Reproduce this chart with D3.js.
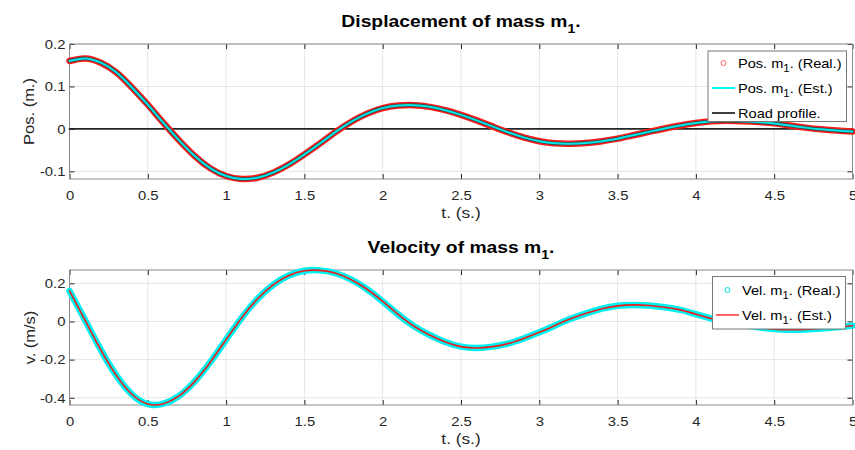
<!DOCTYPE html>
<html><head><meta charset="utf-8">
<script src="https://cdn.jsdelivr.net/npm/d3@7"></script>
<style>body{margin:0;background:#fff}svg{display:block;font-family:"Liberation Sans",Arial,sans-serif}</style>
</head><body><svg id="c" width="855" height="450"></svg>
<script>
// time samples (s)
const time = d3.range(0, 51).map(i => +(i * 0.1).toFixed(1));
// displacement of mass m1 (m)
const posReal = [0.160,0.166,0.156,0.133,0.097,0.057,0.014,-0.027,-0.064,-0.093,
 -0.111,-0.118,-0.115,-0.103,-0.084,-0.060,-0.034,-0.007,0.017,0.036,
 0.049,0.055,0.056,0.052,0.044,0.033,0.020,0.006,-0.008,-0.020,
 -0.029,-0.034,-0.035,-0.033,-0.029,-0.023,-0.015,-0.007,0.001,0.008,
 0.014,0.018,0.019,0.018,0.016,0.013,0.008,0.003,-0.001,-0.004,-0.006];
const posEst = posReal.slice();
const road = time.map(() => 0);
// velocity of mass m1 (m/s)
const velReal = [0.160,0.006,-0.149,-0.284,-0.383,-0.433,-0.431,-0.390,-0.314,-0.212,
 -0.095,0.020,0.118,0.192,0.241,0.266,0.268,0.253,0.219,0.169,
 0.105,0.036,-0.025,-0.071,-0.108,-0.132,-0.139,-0.132,-0.116,-0.089,
 -0.057,-0.021,0.014,0.043,0.067,0.082,0.087,0.084,0.075,0.061,
 0.038,0.015,-0.005,-0.019,-0.031,-0.040,-0.043,-0.042,-0.037,-0.030,-0.022];
const velEst = velReal.slice();
const xTicks = [0,0.5,1,1.5,2,2.5,3,3.5,4,4.5,5];
const yTicksPos = [-0.1,0,0.1,0.2];
const yTicksVel = [-0.4,-0.2,0,0.2];

const svg = d3.select("#c");
const L = 69.5, R = 852.5;
const fmt = d => String(d); // plain hyphen minus, like MATLAB

function stretchedText(parent, x, y, sx, rot){
  const tr = `translate(${x},${y})` + (rot ? ` rotate(${rot})` : "") + ` scale(${sx},1)`;
  return parent.append("text").attr("transform", tr);
}

function panel(cfg){
  const g = svg.append("g");
  const x = d3.scaleLinear().domain([0,5]).range([L,R]);
  const y = d3.scaleLinear().domain(cfg.ydom).range([cfg.bottom,cfg.top]);
  // grid
  g.append("g").selectAll("line.v").data(xTicks).join("line")
    .attr("x1",d=>x(d)).attr("x2",d=>x(d)).attr("y1",cfg.top).attr("y2",cfg.bottom)
    .attr("stroke","#e6e6e6").attr("stroke-width",1);
  g.append("g").selectAll("line.h").data(cfg.yticks).join("line")
    .attr("x1",L).attr("x2",R).attr("y1",d=>y(d)).attr("y2",d=>y(d))
    .attr("stroke","#e6e6e6").attr("stroke-width",1);
  // axes with inward ticks
  const ax = (gen, tr) => g.append("g").attr("transform",tr).call(gen)
      .call(s=>s.select(".domain").remove())
      .call(s=>s.selectAll(".tick line").attr("stroke","#262626"))
      .call(s=>s.selectAll("text").attr("fill","#262626").attr("font-size",13.5)
          .attr("font-family","Liberation Sans, Arial")
          .attr("transform", function(){ const xx = +d3.select(this).attr("x")||0; return `translate(${xx*(1-1.1)},0) scale(1.1,1)`; }));
  ax(d3.axisBottom(x).tickValues(xTicks).tickSize(-5).tickPadding(11).tickFormat(fmt), `translate(0,${cfg.bottom})`);
  ax(d3.axisTop(x).tickValues(xTicks).tickSize(-5).tickFormat(""), `translate(0,${cfg.top})`);
  ax(d3.axisLeft(y).tickValues(cfg.yticks).tickSize(-5).tickPadding(4).tickFormat(fmt), `translate(${L},0)`);
  ax(d3.axisRight(y).tickValues(cfg.yticks).tickSize(-5).tickFormat(""), `translate(${R},0)`);
  g.append("rect").attr("x",L).attr("y",cfg.top).attr("width",R-L).attr("height",cfg.bottom-cfg.top)
    .attr("fill","none").attr("stroke","#8a8a8a").attr("stroke-width",1);
  // series
  const clip = "clip"+cfg.id;
  svg.append("clipPath").attr("id",clip).append("rect").attr("x",L-5).attr("y",cfg.top-8).attr("width",R-L+10).attr("height",cfg.bottom-cfg.top+16);
  const sg = g.append("g").attr("clip-path",`url(#${clip})`);
  const line = d3.line().x((d,i)=>x(time[i])).y(d=>y(d)).curve(d3.curveNatural);
  cfg.series.forEach(s=>{
    sg.append("path").attr("d",line(s.data)).attr("fill","none")
      .attr("stroke",s.color).attr("stroke-width",s.w).attr("stroke-linecap","round").attr("stroke-linejoin","round");
  });
  // title
  const t = stretchedText(g, 461, cfg.titleY, 1.17).attr("text-anchor","middle")
    .attr("font-weight","bold").attr("font-size",16.5).attr("fill","#000");
  t.append("tspan").text(cfg.title);
  t.append("tspan").attr("font-size",12).attr("dy",5.5).text("1");
  t.append("tspan").attr("dy",-5.5).text(".");
  // x label
  stretchedText(g, 461, cfg.bottom+39, 1.15).attr("text-anchor","middle")
    .attr("font-size",15).attr("fill","#262626").text("t. (s.)");
  // y label
  stretchedText(g, cfg.ylabX, (cfg.top+cfg.bottom)/2, 1.1, -90)
    .attr("text-anchor","middle").attr("font-size",15).attr("fill","#262626").text(cfg.ylabel);
  // legend
  const lg = g.append("g");
  lg.append("rect").attr("x",cfg.leg.x0).attr("y",cfg.leg.y0).attr("width",cfg.leg.x1-cfg.leg.x0).attr("height",cfg.leg.y1-cfg.leg.y0)
    .attr("fill","#fff").attr("stroke","#777").attr("stroke-width",1);
  cfg.leg.items.forEach((it,i)=>{
    const yy = cfg.leg.rowY[i];
    if(it.marker){
      lg.append("circle").attr("cx",(cfg.leg.lx0+cfg.leg.lx1)/2).attr("cy",yy).attr("r",2.5)
        .attr("fill","none").attr("stroke",it.color).attr("stroke-width",1);
    } else {
      lg.append("line").attr("x1",cfg.leg.lx0).attr("x2",cfg.leg.lx1).attr("y1",yy).attr("y2",yy)
        .attr("stroke",it.color).attr("stroke-width",it.w);
    }
    const tx = stretchedText(lg, cfg.leg.tx, yy+5, 1.08).attr("font-size",13.5).attr("fill","#000");
    tx.append("tspan").text(it.a);
    if(it.b!==undefined){
      tx.append("tspan").attr("font-size",10.5).attr("dy",4).text("1");
      tx.append("tspan").attr("dy",-4).text(it.b);
    }
  });
}

panel({id:1, top:44, bottom:179, ydom:[-0.118,0.2], yticks:yTicksPos, titleY:27,
  title:"Displacement of mass m", ylabel:"Pos. (m.)", ylabX:34,
  series:[{data:road,color:"#262626",w:1.8},
          {data:posReal,color:"#ff1a1a",w:6.5},
          {data:posReal,color:"#3a4a4a",w:3.6},
          {data:posEst,color:"#00e6e6",w:2}],
  leg:{x0:708,x1:846.5,y0:51,y1:121.5,lx0:712,lx1:735,tx:738,rowY:[63,88,113],
    items:[{marker:true,color:"#ff6666",a:"Pos. m",b:". (Real.)"},
           {color:"#00ffff",w:2,a:"Pos. m",b:". (Est.)"},
           {color:"#000",w:1.5,a:"Road profile."}]}
});
panel({id:2, top:270, bottom:405, ydom:[-0.438,0.27], yticks:yTicksVel, titleY:253,
  title:"Velocity of mass m", ylabel:"v. (m/s)", ylabX:35,
  series:[{data:velReal,color:"#00f0f0",w:6.5},
          {data:velEst,color:"#ee1c1c",w:1.6}],
  leg:{x0:712.5,x1:845.5,y0:276.5,y1:329,lx0:716,lx1:739,tx:742,rowY:[290,315],
    items:[{marker:true,color:"#00e0e0",a:"Vel. m",b:". (Real.)"},
           {color:"#ff3030",w:1.5,a:"Vel. m",b:". (Est.)"}]}
});
</script></body></html>
